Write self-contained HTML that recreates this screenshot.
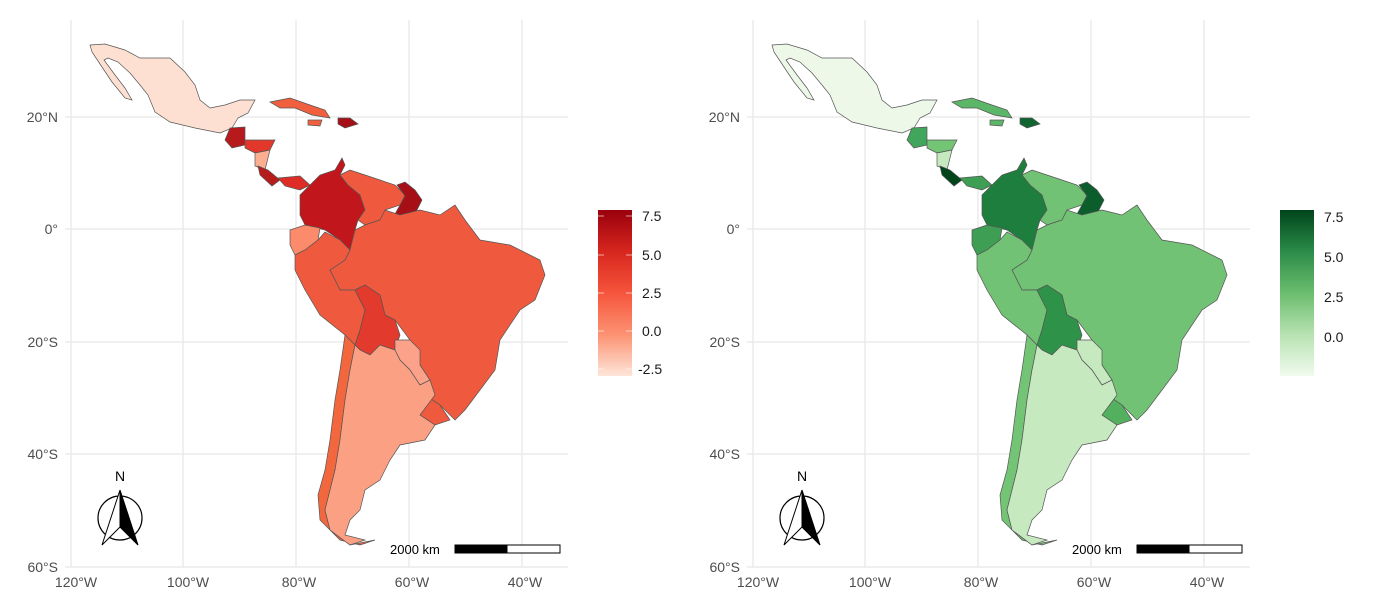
<!DOCTYPE html>
<html><head><style>
body{margin:0;background:#fff;}
svg{display:block;font-family:"Liberation Sans",sans-serif;}
.g{stroke:#ebebeb;stroke-width:1.5;}
.t{font-size:14px;fill:#4d4d4d;}
.l{font-size:14px;fill:#1a1a1a;}
.c{stroke:#555;stroke-width:0.7;}
</style></head><body>
<svg width="1379" height="598" viewBox="0 0 1379 598">
<defs>
<linearGradient id="rg" x1="0" y1="0" x2="0" y2="1">
<stop offset="0" stop-color="#99000d"/><stop offset="0.25" stop-color="#d7261e"/><stop offset="0.5" stop-color="#f6553c"/><stop offset="0.75" stop-color="#fc9272"/><stop offset="1" stop-color="#fee5d9"/></linearGradient>
<linearGradient id="gg" x1="0" y1="0" x2="0" y2="1">
<stop offset="0" stop-color="#00441b"/><stop offset="0.25" stop-color="#2b8c48"/><stop offset="0.5" stop-color="#6bbd6e"/><stop offset="0.75" stop-color="#b7e2b1"/><stop offset="1" stop-color="#f1faee"/></linearGradient>
<g id="grid">
<path class="g" d="M71,20V567M183,20V567M296,20V567M409,20V567M522,20V567M65,117H568M65,229H568M65,342H568M65,454H568M65,567H568"/>
<g class="t" text-anchor="end"><text x="58" y="122">20°N</text><text x="58" y="234">0°</text><text x="58" y="347">20°S</text><text x="58" y="459">40°S</text><text x="58" y="572">60°S</text></g>
<g class="t" text-anchor="middle"><text x="76" y="587">120°W</text><text x="188" y="587">100°W</text><text x="299" y="587">80°W</text><text x="412" y="587">60°W</text><text x="525" y="587">40°W</text></g>
<circle cx="120" cy="518" r="22" fill="none" stroke="#000" stroke-width="1.2"/>
<path d="M120,490L102,545L120,527Z" fill="#fff" stroke="#000"/>
<path d="M120,490L138,545L120,527Z" fill="#000" stroke="#000"/>
<text x="120" y="481" text-anchor="middle" font-size="14">N</text>
<text x="390" y="554" font-size="13">2000 km</text>
<rect x="455" y="545" width="52" height="8" fill="#000" stroke="#000"/>
<rect x="507" y="545" width="53" height="8" fill="#fff" stroke="#000"/>
</g>
<path id="mex" d="M90,45L105,44L125,50L140,58L170,58L185,72L195,85L200,100L210,108L225,105L240,100L255,100L248,113L238,118L232,128L220,133L195,128L170,122L155,112L148,95L140,85L130,73L118,62L108,58L104,60L115,75L125,88L132,100L125,98L112,82L100,64L92,52Z"/>
</defs>

<use href="#grid"/>
<g transform="translate(682,0)"><use href="#grid"/></g>

<!-- LEFT MAP -->
<g class="c">
<use href="#mex" fill="#fee0d2"/>
<path fill="#b61a1c" d="M230,128L245,127L245,145L232,148L225,140Z"/>
<path fill="#e2382b" d="M245,140L275,140L270,150L255,153L245,148Z"/>
<path fill="#fcae91" d="M255,153L270,150L265,170L255,166Z"/>
<path fill="#b71c1c" d="M258,166L268,170L280,180L272,186L260,175Z"/>
<path fill="#de2d26" d="M278,178L300,176L310,185L300,190L285,186Z"/>
<path fill="#f0603f" d="M270,102L290,98L310,105L325,110L330,118L312,115L295,108L280,108Z"/>
<path fill="#a50f15" d="M338,118L350,118L358,124L345,128L338,124Z"/>
<path fill="#f0603f" d="M308,120L322,120L320,126L308,125Z"/>
<path fill="#c0161c" d="M300,195L310,185L320,175L335,170L342,158L345,165L340,175L348,185L360,195L365,210L358,220L355,230L350,250L340,240L325,230L305,225L300,215Z"/>
<path fill="#ef5a3f" d="M340,175L350,170L365,175L380,180L395,185L405,195L400,205L385,210L380,220L365,225L358,220L365,210L360,195L348,185Z"/>
<path fill="#a50f15" d="M397,185L405,182L415,190L422,200L416,212L405,220L395,214L400,205L405,196Z"/>
<path fill="#fb8b6a" d="M290,230L305,225L320,228L318,240L305,250L295,255L290,245Z"/>
<path fill="#ef5a3f" d="M330,270L345,260L350,250L355,230L365,225L380,220L385,210L400,215L420,210L440,215L455,205L465,220L480,240L510,245L540,260L545,275L535,300L520,310L500,340L495,370L480,390L465,410L455,420L440,405L425,395L430,380L420,365L410,340L395,320L385,315L380,295L365,285L355,290L340,290Z"/>
<path fill="#ef5a3f" d="M295,255L305,250L318,240L325,232L340,240L350,250L345,260L330,270L340,290L355,290L365,310L360,330L355,345L345,335L320,315L305,290L295,270Z"/>
<path fill="#e23a2c" d="M355,290L365,285L380,295L385,315L395,320L400,335L395,350L380,345L370,355L360,350L355,345L360,330L365,310Z"/>
<path fill="#fca28a" d="M395,340L410,340L420,350L420,365L430,380L420,385L410,370L400,360L395,350Z"/>
<path fill="#ef5a3f" d="M425,395L440,405L450,420L435,425L420,415L425,400Z"/>
<path fill="#f3673f" d="M345,335L355,345L350,370L345,400L340,440L335,470L330,490L325,510L330,530L350,545L375,540L360,545L340,540L320,520L318,495L325,470L330,440L335,400L340,370Z"/>
<path fill="#fca083" d="M355,345L360,350L370,355L380,345L395,350L400,360L410,370L420,385L430,380L435,395L420,415L435,425L425,440L400,445L390,460L380,480L365,490L360,510L350,520L345,535L365,540L350,545L330,530L325,510L330,490L335,470L340,440L345,400L350,370Z"/>
</g>
<rect x="598" y="210" width="34" height="166" fill="url(#rg)"/>
<path d="M598,216h6M626,216h6M598,255h6M626,255h6M598,293h6M626,293h6M598,331h6M626,331h6M598,369h6M626,369h6" stroke="#fff" stroke-opacity="0.6"/>
<g class="l"><text x="642" y="221">7.5</text><text x="642" y="260">5.0</text><text x="642" y="298">2.5</text><text x="642" y="336">0.0</text><text x="638" y="374">-2.5</text></g>

<!-- RIGHT MAP -->
<g class="c" transform="translate(682,0)">
<use href="#mex" fill="#edf8e9"/>
<path fill="#41a55c" d="M230,128L245,127L245,145L232,148L225,140Z"/>
<path fill="#74c476" d="M245,140L275,140L270,150L255,153L245,148Z"/>
<path fill="#c7e9c0" d="M255,153L270,150L265,170L255,166Z"/>
<path fill="#00441b" d="M258,166L268,170L280,180L272,186L260,175Z"/>
<path fill="#3d9e54" d="M278,178L300,176L310,185L300,190L285,186Z"/>
<path fill="#5bb668" d="M270,102L290,98L310,105L325,110L330,118L312,115L295,108L280,108Z"/>
<path fill="#0f6430" d="M338,118L350,118L358,124L345,128L338,124Z"/>
<path fill="#5bb668" d="M308,120L322,120L320,126L308,125Z"/>
<path fill="#1d7e3d" d="M300,195L310,185L320,175L335,170L342,158L345,165L340,175L348,185L360,195L365,210L358,220L355,230L350,250L340,240L325,230L305,225L300,215Z"/>
<path fill="#71c274" d="M340,175L350,170L365,175L380,180L395,185L405,195L400,205L385,210L380,220L365,225L358,220L365,210L360,195L348,185Z"/>
<path fill="#0b5d2c" d="M397,185L405,182L415,190L422,200L416,212L405,220L395,214L400,205L405,196Z"/>
<path fill="#3d9e54" d="M290,230L305,225L320,228L318,240L305,250L295,255L290,245Z"/>
<path fill="#71c274" d="M330,270L345,260L350,250L355,230L365,225L380,220L385,210L400,215L420,210L440,215L455,205L465,220L480,240L510,245L540,260L545,275L535,300L520,310L500,340L495,370L480,390L465,410L455,420L440,405L425,395L430,380L420,365L410,340L395,320L385,315L380,295L365,285L355,290L340,290Z"/>
<path fill="#71c274" d="M295,255L305,250L318,240L325,232L340,240L350,250L345,260L330,270L340,290L355,290L365,310L360,330L355,345L345,335L320,315L305,290L295,270Z"/>
<path fill="#2e9249" d="M355,290L365,285L380,295L385,315L395,320L400,335L395,350L380,345L370,355L360,350L355,345L360,330L365,310Z"/>
<path fill="#c7e9c0" d="M395,340L410,340L420,350L420,365L430,380L420,385L410,370L400,360L395,350Z"/>
<path fill="#52b05f" d="M425,395L440,405L450,420L435,425L420,415L425,400Z"/>
<path fill="#74c476" d="M345,335L355,345L350,370L345,400L340,440L335,470L330,490L325,510L330,530L350,545L375,540L360,545L340,540L320,520L318,495L325,470L330,440L335,400L340,370Z"/>
<path fill="#c7e9c0" d="M355,345L360,350L370,355L380,345L395,350L400,360L410,370L420,385L430,380L435,395L420,415L435,425L425,440L400,445L390,460L380,480L365,490L360,510L350,520L345,535L365,540L350,545L330,530L325,510L330,490L335,470L340,440L345,400L350,370Z"/>
</g>
<rect x="1280" y="210" width="34" height="166" fill="url(#gg)"/>
<g class="l"><text x="1324" y="222">7.5</text><text x="1324" y="262">5.0</text><text x="1324" y="302">2.5</text><text x="1324" y="342">0.0</text></g>
</svg>
</body></html>
